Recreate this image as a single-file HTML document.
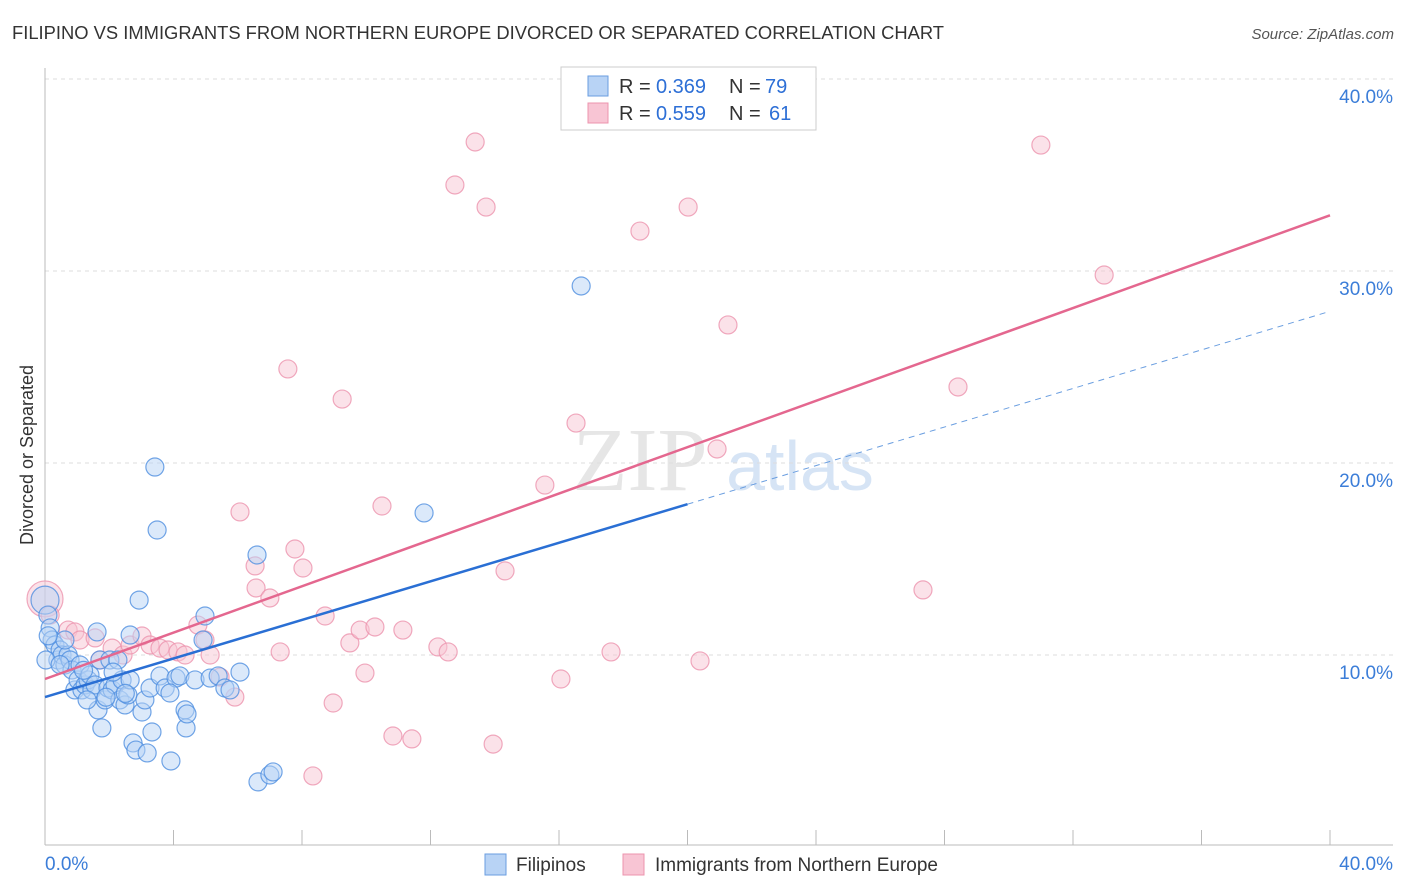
<!DOCTYPE html>
<html><head><meta charset="utf-8"><style>
body{margin:0;background:#fff;font-family:"Liberation Sans",sans-serif}
svg{display:block}
</style></head><body>
<svg width="1406" height="892" viewBox="0 0 1406 892">
<text x="12" y="39" font-size="18" fill="#333" textLength="932" lengthAdjust="spacingAndGlyphs">FILIPINO VS IMMIGRANTS FROM NORTHERN EUROPE DIVORCED OR SEPARATED CORRELATION CHART</text>
<text x="1394" y="39" font-size="15" fill="#555" font-style="italic" text-anchor="end">Source: ZipAtlas.com</text>
<text x="640" y="490" font-size="90" fill="#e6e6e6" font-family="Liberation Serif,serif" text-anchor="middle">ZIP</text>
<text x="800" y="490" font-size="70" fill="#d6e4f5" text-anchor="middle">atlas</text>
<g id="grid"></g>
<g id="axes"></g>
<g id="marks"></g>
<text transform="translate(33,455) rotate(-90)" font-size="18" fill="#333" text-anchor="middle">Divorced or Separated</text>
<g>
<rect x="561" y="67" width="255" height="63" fill="#fff" stroke="#ccc"/>
<rect x="588" y="76" width="20" height="20" fill="#b8d3f5" stroke="#6a9ee0"/>
<rect x="588" y="103" width="20" height="20" fill="#f8c5d4" stroke="#ec94ae"/>
<text y="93" font-size="20" fill="#333"><tspan x="619">R =</tspan><tspan x="656" fill="#2d6fd6">0.369</tspan><tspan x="729">N =</tspan><tspan x="765" fill="#2d6fd6">79</tspan></text>
<text y="120" font-size="20" fill="#333"><tspan x="619">R =</tspan><tspan x="656" fill="#2d6fd6">0.559</tspan><tspan x="729">N =</tspan><tspan x="769" fill="#2d6fd6">61</tspan></text>
</g>
<g>
<rect x="485" y="854" width="21" height="21" fill="#b8d3f5" stroke="#6a9ee0"/>
<text x="516" y="871" font-size="19" fill="#333">Filipinos</text>
<rect x="623" y="854" width="21" height="21" fill="#f8c5d4" stroke="#ec94ae"/>
<text x="655" y="871" font-size="19" fill="#333">Immigrants from Northern Europe</text>
</g>
</svg>
<script>
const xTicks=[0,4,8,12,16,20,24,28,32,36,40];
const yTicks=[10,20,30,40];
const blueX=[0.0,0.09,0.16,0.22,0.31,0.40,0.47,0.53,0.62,0.72,0.78,0.84,0.93,1.03,1.09,1.15,1.25,1.34,1.40,1.46,1.56,1.62,1.65,1.71,1.77,1.87,1.96,2.02,2.09,2.18,2.27,2.33,2.40,2.49,2.58,2.65,2.65,2.74,2.83,2.93,3.02,3.11,3.18,3.27,3.33,3.42,3.49,3.58,3.74,3.92,4.08,4.20,4.36,4.39,4.42,4.67,4.92,4.98,5.14,5.39,5.60,5.76,6.07,6.60,6.63,7.00,7.10,11.80,16.69,0.03,0.62,1.31,2.12,3.89,0.47,1.2,2.5,0.1,1.9];
const blueY=[12.86,12.08,11.41,10.78,10.52,9.74,10.26,10.0,9.48,10.0,9.74,9.22,8.18,8.70,9.48,8.18,8.44,8.70,8.96,8.18,8.44,11.2,7.14,9.74,6.20,7.66,8.28,9.74,8.18,8.44,9.74,7.66,8.70,7.40,7.92,11.04,8.70,5.42,5.05,12.86,7.03,7.66,4.90,8.28,5.99,19.79,16.51,8.91,8.28,4.48,8.80,8.91,7.14,6.20,6.93,8.70,10.78,12.03,8.80,8.91,8.28,8.18,9.11,15.21,3.39,3.75,3.91,17.40,29.22,9.74,10.78,7.66,9.11,8.02,9.5,9.2,8.0,11.0,7.8];
const pinkX=[0.0,0.16,0.72,0.93,1.09,1.56,1.71,2.09,2.43,2.65,3.02,3.27,3.58,3.83,4.14,4.36,4.76,4.98,5.14,5.45,5.91,6.07,6.54,6.57,7.00,7.32,7.56,7.78,8.03,8.34,8.72,8.97,9.25,9.49,9.81,9.96,10.27,10.49,10.83,11.14,11.42,12.23,12.55,12.76,13.39,13.73,13.95,14.32,15.56,16.06,16.53,17.62,18.52,20.02,20.39,20.92,21.26,27.33,28.42,31.00,32.97];
const pinkY=[12.92,12.08,11.30,11.20,10.78,10.89,9.74,10.36,10.0,10.52,10.99,10.52,10.36,10.26,10.16,10.0,11.56,10.78,10.0,8.85,7.81,17.45,14.64,13.49,12.97,10.16,24.90,15.52,14.53,3.70,12.03,7.50,23.33,10.63,11.30,9.06,11.46,17.76,5.78,11.30,5.63,10.42,10.16,34.48,36.72,33.33,5.36,14.38,18.85,8.75,22.08,10.16,32.08,33.33,9.69,20.73,27.19,13.39,23.96,36.56,29.79];
const blueLine=[7.81,27.9], blueSolidEnd=20;
const pinkLine=[8.75,32.9];
const NS='http://www.w3.org/2000/svg';
const X=v=>45+v/40*1285, Y=v=>847-v*19.2;
function mk(t,a,p){const e=document.createElementNS(NS,t);for(const k in a)e.setAttribute(k,a[k]);document.getElementById(p).appendChild(e);return e;}
yTicks.forEach(t=>{
 const g=mk('line',{x1:45,x2:1393,y1:Y(t),y2:Y(t),stroke:'#ddd','stroke-dasharray':'4,4'},'grid');
 
 
 const l=mk('text',{x:1393,y:Y(t)+24,'font-size':19,fill:'#3b7dd8','text-anchor':'end'},'axes');
 l.textContent=t.toFixed(1)+'%';
 
 
});
const ax=mk('line',{x1:45,x2:1393,y1:845,y2:845,stroke:'#bbb'},'axes');


const ay=mk('line',{x1:45,x2:45,y1:68,y2:845,stroke:'#bbb'},'axes');


xTicks.forEach(t=>{
 const k=mk('line',{x1:X(t),x2:X(t),y1:830,y2:845,stroke:'#bbb'},'axes');
 
 
});
[[0,'start',45],[40,'end',1393]].forEach(([t,a,x])=>{
 const l=mk('text',{x:x,y:870,'font-size':19,fill:'#3b7dd8','text-anchor':a},'axes');
 l.textContent=t.toFixed(1)+'%';
 
 
});
function dots(xs,ys,fill,stroke,name){
 xs.forEach((v,i)=>{
  const r=i===0?(name==='pink-point'?18:14):9;
  const c=mk('circle',{cx:X(v),cy:Y(ys[i]),r:r,fill:fill,'fill-opacity':0.5,stroke:stroke,'stroke-width':1.2,'stroke-opacity':0.8},'marks');
  
  
 });
}
dots(pinkX,pinkY,'#f8c5d4','#ec94ae','pink-point');
dots(blueX,blueY,'#b8d3f5','#4f8ee0','blue-point');
const ly=(L,x)=>L[0]+(L[1]-L[0])*x/40;
let e=mk('line',{x1:X(0),y1:Y(ly(pinkLine,0)),x2:X(40),y2:Y(ly(pinkLine,40)),stroke:'#e4678f','stroke-width':2.5},'marks');


e=mk('line',{x1:X(0),y1:Y(ly(blueLine,0)),x2:X(blueSolidEnd),y2:Y(ly(blueLine,blueSolidEnd)),stroke:'#2a6fd4','stroke-width':2.5},'marks');


e=mk('line',{x1:X(blueSolidEnd),y1:Y(ly(blueLine,blueSolidEnd)),x2:X(40),y2:Y(ly(blueLine,40)),stroke:'#6a9ee0','stroke-width':1,'stroke-dasharray':'6,5'},'marks');


</script>
</body></html>
